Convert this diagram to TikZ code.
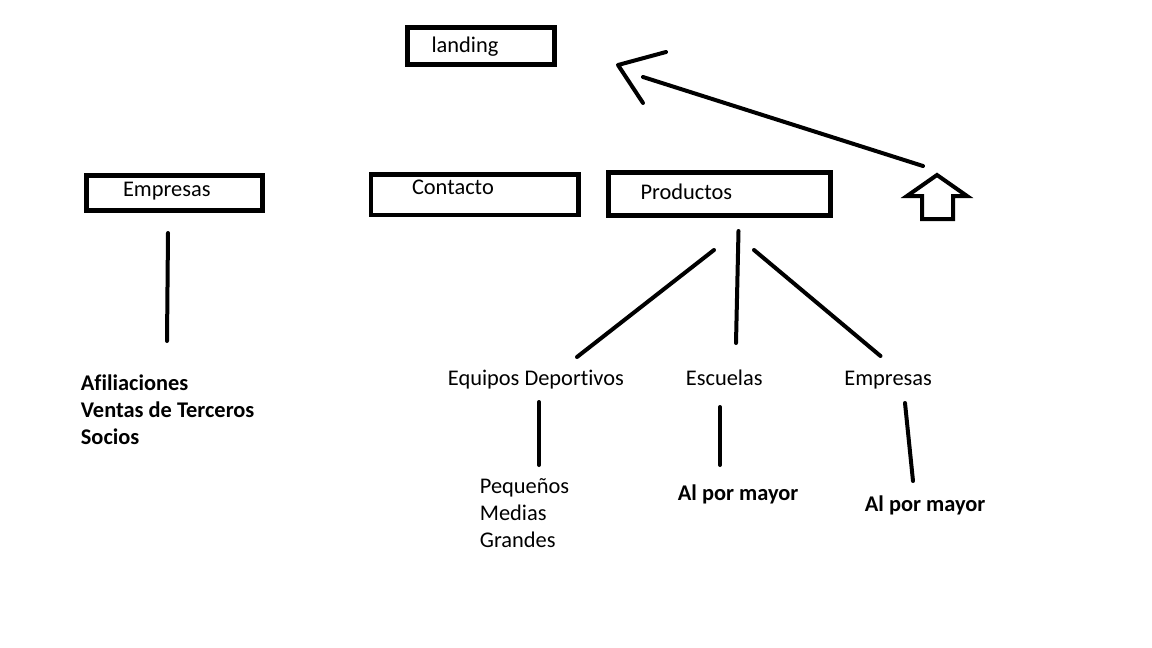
\documentclass[tikz,border=0pt]{standalone}
\usepackage{fontspec}
\setmainfont{Carlito}[Ligatures=NoCommon]
\usepackage{tikz}

\begin{document}
\begin{tikzpicture}[
    x=0.5pt, y=-0.5pt,
    font=\fontsize{11.2}{13.5}\selectfont,
    box/.style={draw, line width=2.25pt, inner ysep=0pt, align=left},
    txt/.style={inner sep=0pt, anchor=base west, align=left},
    bold/.style={txt, font=\fontsize{11.2}{13.5}\selectfont\bfseries},
    link/.style={line width=2pt, line cap=round}
]
\useasboundingbox (0,0) rectangle (1152,648);

% landing
\node[box, text width=49.5pt, inner xsep=12pt, text height=12.25pt, text depth=6.25pt] (landing) at (481,46) {landing};

% menu boxes
\node[box, text width=51.5pt, inner xsep=18.25pt, text height=10.4pt, text depth=7.1pt] (empresas) at (174.5,193) {Empresas};
\node[box, text width=62.75pt, inner xsep=20.5pt, text height=9.9pt, text depth=10.35pt] (contacto) at (474.75,194.75) {Contacto};
\node[box, text width=79pt, inner xsep=16pt, text height=13.4pt, text depth=8.1pt] (productos) at (719.5,194) {Productos};

% flecha hacia arriba
\draw[line width=2pt] (937,175) -- (967,196) -- (953,196) -- (953,219) -- (922,219) -- (922,196) -- (907,196) -- cycle;

% flecha hacia landing
\coordinate (shaftstart) at (923,166);
\coordinate (shaftend) at (643,77);
\coordinate (tip) at (618,65);
\coordinate (barbup) at (666,52);
\coordinate (barbdown) at (643,103);
\draw[link] (shaftstart) -- (shaftend);
\draw[link, line join=round] (barbup) -- (tip) -- (barbdown);

% Empresas
\coordinate (e1) at (168,233);
\coordinate (e2) at (167,341);
\draw[link] (e1) -- (e2);
\node[bold] (afiliaciones) at (80.5,444.7) {Afiliaciones\\Ventas de Terceros\\Socios};

% Productos
\node[txt] (equipos) at (447.5,385.5) {Equipos Deportivos};
\node[txt] (escuelas) at (685.5,385.5) {Escuelas};
\node[txt] (empresas2) at (844,385.5) {Empresas};

\coordinate (p1) at (714,250);
\coordinate (p2) at (577,357);
\coordinate (p3) at (738.5,231);
\coordinate (p4) at (736,343);
\coordinate (p5) at (754,250);
\coordinate (p6) at (880.5,356);
\draw[link] (p1) -- (p2);
\draw[link] (p3) -- (p4);
\draw[link] (p5) -- (p6);

% subniveles
\coordinate (q1) at (539,402);
\coordinate (q2) at (539,465);
\coordinate (q3) at (720,407);
\coordinate (q4) at (720,465);
\coordinate (q5) at (905,403);
\coordinate (q6) at (913,481);
\draw[link] (q1) -- (q2);
\draw[link] (q3) -- (q4);
\draw[link] (q5) -- (q6);

\node[txt] (tamanos) at (479.5,547.5) {Pequeños\\Medias\\Grandes};
\node[bold] (mayor1) at (677.5,500) {Al por mayor};
\node[bold] (mayor2) at (864.5,511.5) {Al por mayor};

\end{tikzpicture}
\end{document}
